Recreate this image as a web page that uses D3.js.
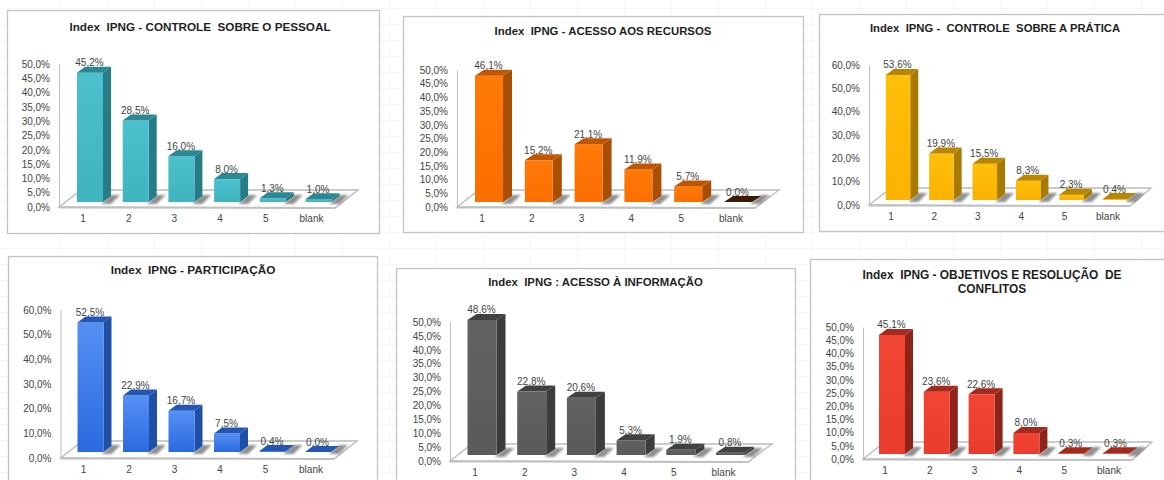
<!DOCTYPE html>
<html lang="pt">
<head>
<meta charset="utf-8">
<script src="https://cdn.jsdelivr.net/npm/d3@7"></script>
<style>
  html, body { margin: 0; padding: 0; background: #fff; overflow: hidden; }
  svg { display: block; font-family: "Liberation Sans", Arial, sans-serif; }
</style>
</head>
<body>
<svg id="chart" width="1164" height="480"></svg>
<script>
// Score categories shared by every index chart
const categories = ["1", "2", "3", "4", "5", "blank"];

// Percentage of answers per score
const controlePessoal = [45.2, 28.5, 16.0, 8.0, 1.3, 1.0];
const acessoRecursos = [46.1, 15.2, 21.1, 11.9, 5.7, 0.0];
const controlePratica = [53.6, 19.9, 15.5, 8.3, 2.3, 0.4];
const participacao = [52.5, 22.9, 16.7, 7.5, 0.4, 0.0];
const acessoInformacao = [48.6, 22.8, 20.6, 5.3, 1.9, 0.8];
const objetivosConflitos = [45.1, 23.6, 22.6, 8.0, 0.3, 0.3];

const panels = [
  { title: ["Index  IPNG - CONTROLE  SOBRE O PESSOAL"], titleSize: 11.7, values: controlePessoal, max: 50, step: 5,
    box: [7, 10, 379, 233], titleX: 200, titleY: 31, axisX: 59, yTop: 64, y0: 207, base: 202,
    first: 90, gap: 45.7, bw: 26, depth: 8, floorFront: 335, floorBack: 358,
    front: ["#4cc0cc", "#3fb3bf"], side: "#267c87", top: "#2b8792", zeroTop: null },
  { title: ["Index  IPNG - ACESSO AOS RECURSOS"], titleSize: 11.4, values: acessoRecursos, max: 50, step: 5,
    box: [403, 16, 803, 232], titleX: 603, titleY: 35, axisX: 457, yTop: 70, y0: 207, base: 202,
    first: 489, gap: 49.8, bw: 28, depth: 9, floorFront: 755, floorBack: 779,
    front: ["#ff7a08", "#fb6e00"], side: "#a94e02", top: "#bf5702", zeroTop: "#3a1c04" },
  { title: ["Index  IPNG -  CONTROLE  SOBRE A PRÁTICA"], titleSize: 11.3, values: controlePratica, max: 60, step: 10,
    box: [819, 14, 1170, 231], titleX: 995, titleY: 32, axisX: 869, yTop: 65, y0: 205, base: 200,
    first: 898, gap: 43.4, bw: 24.5, depth: 8, floorFront: 1130, floorBack: 1151,
    front: ["#ffbf0a", "#fbb200"], side: "#a87a02", top: "#b98602", zeroTop: null },
  { title: ["Index  IPNG - PARTICIPAÇÃO"], titleSize: 11.8, values: participacao, max: 60, step: 10,
    box: [8, 256, 377, 490], titleX: 193, titleY: 274, axisX: 60.5, yTop: 310, y0: 458, base: 452,
    first: 90.5, gap: 45.5, bw: 26, depth: 8, floorFront: 334, floorBack: 357,
    front: ["#5590f5", "#2a6adf"], side: "#1f50a8", top: "#2456b4", zeroTop: null },
  { title: ["Index  IPNG : ACESSO À INFORMAÇÃO"], titleSize: 11.4, values: acessoInformacao, max: 50, step: 5,
    box: [396, 268, 795, 490], titleX: 595.5, titleY: 286, axisX: 450, yTop: 322, y0: 461, base: 455,
    first: 482, gap: 49.7, bw: 29, depth: 9, floorFront: 748, floorBack: 772,
    front: ["#626262", "#5a5a5a"], side: "#3c3c3c", top: "#414141", zeroTop: null },
  { title: ["Index  IPNG - OBJETIVOS E RESOLUÇÃO  DE", "CONFLITOS"], titleSize: 11.9, values: objetivosConflitos, max: 50, step: 5,
    box: [810, 259, 1170, 490], titleX: 992, titleY: 279, axisX: 863, yTop: 327, y0: 459, base: 454,
    first: 892, gap: 44.8, bw: 26, depth: 8, floorFront: 1132, floorBack: 1152,
    front: ["#f24534", "#ea3c2c"], side: "#8e2419", top: "#a42a1d", zeroTop: null }
];

const svg = d3.select("#chart");
const defs = svg.append("defs");
defs.append("filter").attr("id", "soft").attr("x", "-30%").attr("y", "-60%").attr("width", "160%").attr("height", "220%")
  .append("feGaussianBlur").attr("stdDeviation", 1.2);

// Faint spreadsheet cells showing behind the charts
const sheet = svg.append("g").attr("stroke", "#f7f7f7").attr("stroke-width", 1);
d3.range(60, 1164, 47).forEach(x => sheet.append("line").attr("x1", x + .5).attr("x2", x + .5).attr("y1", 0).attr("y2", 480));
d3.range(8, 480, 16).forEach(y => sheet.append("line").attr("y1", y + .5).attr("y2", y + .5).attr("x1", 0).attr("x2", 1164));

const pct = v => v.toFixed(1).replace(".", ",") + "%";

panels.forEach((p, i) => {
  const g = svg.append("g").attr("class", "panel");
  const [bx0, by0, bx1, by1] = p.box;
  const rise = 6;
  const floorDrop = p.y0 - 17;

  g.append("rect").attr("x", bx0 + .5).attr("y", by0 + .5)
    .attr("width", bx1 - bx0).attr("height", by1 - by0)
    .attr("fill", "#fff").attr("stroke", "#c4c4c4").attr("stroke-width", 1.3);

  g.selectAll("text.title").data(p.title).join("text").attr("class", "title")
    .attr("x", p.titleX).attr("y", (d, k) => p.titleY + k * 13.5)
    .attr("text-anchor", "middle").attr("font-size", p.titleSize).attr("font-weight", "bold")
    .attr("fill", "#1f1f1f").style("white-space", "pre").text(d => d);

  const y = d3.scaleLinear().domain([0, p.max]).range([p.y0, p.yTop]);
  const barY = v => y(v) - (p.y0 - p.base);
  const x = d3.scalePoint().domain(categories).range([p.first, p.first + 5 * p.gap]);

  // Floor of the 3D plot
  const floor = [[p.axisX, p.y0], [p.floorFront, p.y0 + 1], [p.floorBack, floorDrop], [p.axisX + 22, floorDrop]];
  g.append("path").attr("d", d3.line()(floor) + "Z")
    .attr("fill", "#fff").attr("stroke", "#bababa").attr("stroke-width", 1.3);
  g.append("line").attr("x1", p.axisX).attr("x2", p.floorFront).attr("y1", p.y0 + .5).attr("y2", p.y0 + 1)
    .attr("stroke", "#c0c0c0").attr("stroke-width", 2);

  // Value axis
  const axisY = d3.axisLeft(y).tickValues(d3.range(0, p.max + p.step, p.step)).tickSize(0).tickPadding(9)
    .tickFormat(pct);
  const ay = g.append("g").attr("transform", `translate(${p.axisX},0)`).call(axisY);
  ay.select(".domain").attr("stroke", "#bdbdbd").attr("stroke-width", 1);
  ay.selectAll("text").attr("font-size", 10).attr("fill", "#444").attr("font-family", "inherit");

  // Category axis, printed slightly left of the bars because of the perspective
  const axisX = d3.axisBottom(x).tickSize(0).tickPadding(0);
  const ax = g.append("g").attr("transform", `translate(-7.5,${p.y0 + 8})`).call(axisX);
  ax.select(".domain").remove();
  ax.selectAll("text").attr("font-size", 10).attr("fill", "#444").attr("font-family", "inherit");

  // Bars: contact shadow, then front, side and top faces
  const gradId = `front${i}`;
  const grad = defs.append("linearGradient").attr("id", gradId).attr("x1", 0).attr("x2", 0).attr("y1", 0).attr("y2", 1);
  grad.append("stop").attr("offset", 0).attr("stop-color", p.front[0]);
  grad.append("stop").attr("offset", 1).attr("stop-color", p.front[1]);

  const line = d3.line();
  const bars = g.selectAll("g.bar").data(p.values).join("g").attr("class", "bar");
  bars.each(function (v, k) {
    const b = d3.select(this);
    const l = x(categories[k]) - p.bw / 2, r = l + p.bw, bot = p.base, t = barY(v), d = p.depth;
    const flat = v === 0;
    b.append("path").attr("d", line([[r - 2, bot + 2], [r + 8, bot + 2], [r + d + 9, bot - rise - 1], [r + d, bot - rise - 1]]) + "Z")
      .attr("fill", "#222").attr("opacity", .5).attr("filter", "url(#soft)");
    if (!flat) {
      b.append("path").attr("d", line([[r, t], [r + d, t - rise], [r + d, bot - rise], [r, bot]]) + "Z").attr("fill", p.side);
      b.append("rect").attr("x", l).attr("y", t).attr("width", p.bw).attr("height", bot - t).attr("fill", `url(#${gradId})`);
    }
    b.append("path").attr("d", line([[l, t], [r, t], [r + d, t - rise], [l + d, t - rise]]) + "Z")
      .attr("fill", flat && p.zeroTop ? p.zeroTop : p.top);
  });

  // Value labels sit on the back edge of each bar
  g.selectAll("text.value").data(p.values).join("text").attr("class", "value")
    .attr("x", (v, k) => x(categories[k]) - .5)
    .attr("y", v => barY(v) - rise - .5)
    .attr("text-anchor", "middle").attr("font-size", 10).attr("fill", "#444")
    .text(pct);
});
</script>
</body>
</html>
